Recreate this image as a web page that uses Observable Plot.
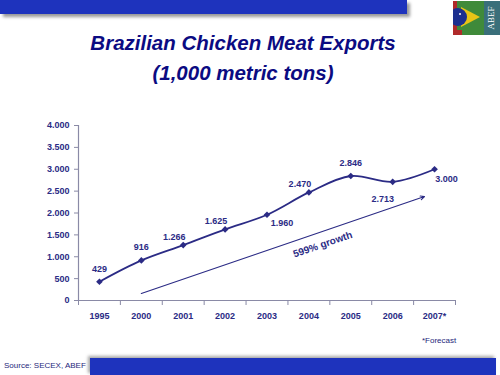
<!DOCTYPE html>
<html>
<head>
<meta charset="utf-8">
<script src="https://cdn.jsdelivr.net/npm/d3@7"></script>
<script src="https://cdn.jsdelivr.net/npm/@observablehq/plot@0.6"></script>
<style>
  html, body { margin: 0; padding: 0; background: #fff; }
  body { width: 500px; height: 375px; position: relative; overflow: hidden; font-family: "Liberation Sans", Arial, sans-serif; }
  #topbar { position: absolute; left: 0; top: 0; width: 407px; height: 14px; background: #1e33bd; box-shadow: 3px 3px 3px #9a9a9a; }
  #botbar { position: absolute; left: 90px; top: 358px; width: 406px; height: 17px; background: #1e33bd; box-shadow: -2px -2px 3px #a8a8a8; }
  #logo { position: absolute; left: 453px; top: 1px; }
  #title { position: absolute; left: 0; top: 28px; width: 486px; text-align: center; color: #0b0b82; font-weight: bold; font-style: italic; font-size: 20.5px; line-height: 30px; }
  #chart { position: absolute; left: 0; top: 110px; }
  #note { position: absolute; left: 422px; top: 336px; font-size: 8px; color: #26267a; }
  #source { position: absolute; left: 4px; top: 361px; font-size: 8px; color: #26267a; }
</style>
</head>
<body>
<div id="topbar"></div>
<svg id="logo" width="47" height="34" viewBox="0 0 47 34">
  <rect x="0" y="0" width="47" height="34" fill="#3f8a3a"/>
  <rect x="31" y="0" width="16" height="34" fill="#3a6f7a"/>
  <rect x="0" y="0" width="4" height="34" fill="#b02a2a"/>
  <polygon points="8,6 27,16 8,26" fill="#e8c416"/>
  <circle cx="5" cy="16" r="9" fill="#1c2f8f"/>
  <circle cx="7" cy="13" r="1" fill="#fff"/>
  <rect x="0" y="29" width="9" height="5" fill="#b02a2a"/>
  <text x="39" y="17" fill="#fff" font-family="Liberation Serif, serif" font-size="9" text-anchor="middle" dominant-baseline="middle" transform="rotate(-90 39 17)">ABEF</text>
</svg>
<div id="title">Brazilian Chicken Meat Exports<br>(1,000 metric tons)</div>
<div id="chart"></div>
<div id="note">*Forecast</div>
<div id="source">Source: SECEX, ABEF</div>
<div id="botbar"></div>
<script>
// ---- data ----
const years = ["1995", "2000", "2001", "2002", "2003", "2004", "2005", "2006", "2007*"];
const exportsKt = [429, 916, 1266, 1625, 1960, 2470, 2846, 2713, 3000];
const labelPlacement = ["above", "above", "above-left", "above-left", "below-right", "above-left", "above", "below-left", "right"];
const yTicks = [0, 500, 1000, 1500, 2000, 2500, 3000, 3500, 4000];
const growthFromIndex = [1];      // starts at 2000
const growthToIndex = [7.76];     // ends just before 2007*
const growthFromValue = [160];
const growthToValue = [2377];
const growthLabel = ["599% growth"];
const growthLabelIndex = [5.33];
const growthLabelValue = [1280];

// ---- build ----
const navy = "#2b2b85";
const axisGray = "#8a8aa6";
const idx = years.map((_, i) => i);
const xDomain = [-0.5, years.length - 0.5];
const boundaries = d3.range(years.length + 1).map(i => i - 0.5);
const fmt = v => d3.format(",")(v).replace(/,/g, ".");
const offsets = {
  "above": [0, -13],
  "above-left": [-9, -8],
  "below-right": [15, 8],
  "below-left": [-10, 17],
  "right": [12, 10]
};
const pts = idx.map(i => ({
  i, year: years[i], v: exportsKt[i], label: fmt(exportsKt[i]),
  dx: offsets[labelPlacement[i]][0], dy: offsets[labelPlacement[i]][1]
}));
const growth = growthFromIndex.map((_, k) => ({
  x1: growthFromIndex[k], x2: growthToIndex[k], y1: growthFromValue[k], y2: growthToValue[k],
  lx: growthLabelIndex[k], ly: growthLabelValue[k], text: growthLabel[k]
}));

const chart = Plot.plot({
  width: 500,
  height: 240,
  marginLeft: 78,
  marginRight: 45,
  marginTop: 15,
  marginBottom: 50,
  style: { fontFamily: "Liberation Sans, Arial, sans-serif", fontSize: "9px", color: navy, background: "transparent", overflow: "visible" },
  x: { domain: xDomain, axis: null },
  y: { domain: [0, 4000], axis: null },
  marks: [
    Plot.ruleX([xDomain[0]], { y1: 0, y2: 4000, stroke: axisGray, strokeWidth: 1.2 }),
    Plot.ruleY([0], { stroke: axisGray, strokeWidth: 1.2 }),
    Plot.axisY({ ticks: yTicks, tickSize: 4, tickPadding: 5, tickFormat: fmt, stroke: axisGray, fill: navy, fontWeight: "bold", fontSize: 9 }),
    Plot.axisX({ ticks: boundaries, tickSize: 5, tickFormat: () => "", stroke: axisGray }),
    Plot.axisX({ ticks: idx, tickSize: 0, tickPadding: 12, tickFormat: i => years[i], fill: navy, fontWeight: "bold", fontSize: 9 }),
    Plot.line(pts, { x: "i", y: "v", stroke: navy, strokeWidth: 1.8, curve: "catmull-rom" }),
    Plot.dot(pts, { x: "i", y: "v", symbol: "diamond2", r: 3, fill: navy, stroke: "none" }),
    ...pts.map(p => Plot.text([p], { x: "i", y: "v", text: "label", dx: p.dx, dy: p.dy, fill: navy, fontWeight: "bold", fontSize: 9 })),
    Plot.arrow(growth, { x1: "x1", y1: "y1", x2: "x2", y2: "y2", stroke: navy, strokeWidth: 1.1, headLength: 6, headAngle: 50 }),
    Plot.text(growth, { x: "lx", y: "ly", text: "text", rotate: -19, fill: navy, fontWeight: "bold", fontSize: 10 })
  ]
});
document.getElementById("chart").appendChild(chart);
</script>
</body>
</html>
